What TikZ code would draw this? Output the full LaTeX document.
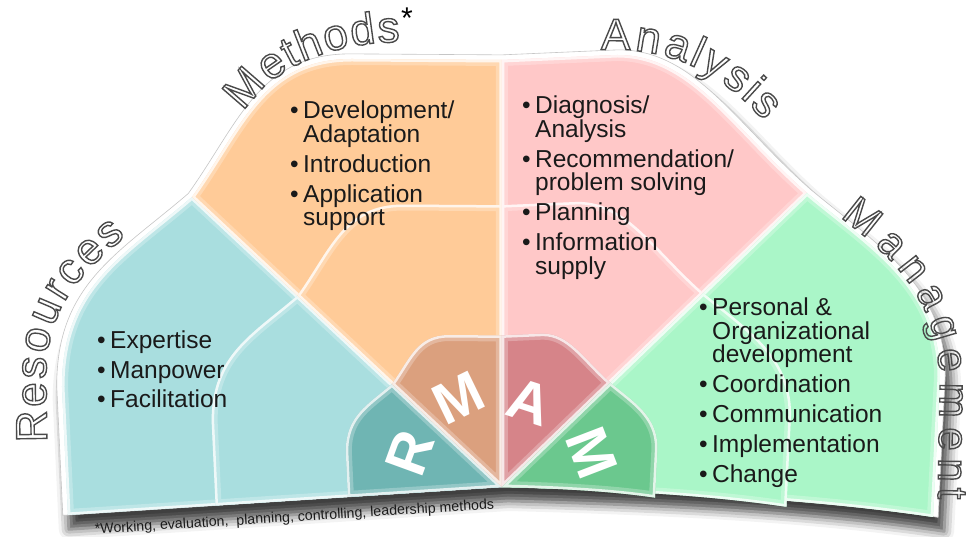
\documentclass[tikz,border=0pt]{standalone}
\usepackage{fontspec}
\setmainfont{Liberation Sans}
\usetikzlibrary{decorations.text,shadows.blur}

\definecolor{resfill}{HTML}{A9DEDF}
\definecolor{metfill}{HTML}{FFCB98}
\definecolor{anafill}{HTML}{FFC8C8}
\definecolor{manfill}{HTML}{AAF6C8}
\definecolor{resdark}{HTML}{6FB5B3}
\definecolor{metdark}{HTML}{DBA07E}
\definecolor{anadark}{HTML}{D68489}
\definecolor{mandark}{HTML}{6BC88E}
\definecolor{bodytext}{HTML}{1A1A1A}
\definecolor{rimgray}{HTML}{4A4A4A}

% the four sectors, all meeting in (0,0)
\def\respath{(0,0) -- (-434,-28) -- (-440,100) .. controls (-440,200) and (-380,230) .. (-310,290) -- cycle}
\def\metpath{(0,0) -- (-310,290) .. controls (-260,360) and (-240,428) .. (-150,428) -- (0,427) -- cycle}
\def\anapath{(0,0) -- (0,427) -- (115,432) .. controls (190,432) and (230,360) .. (305,294) -- cycle}
\def\manpath{(0,0) -- (305,294) .. controls (370,240) and (438,200) .. (438,110) -- (431,-30) .. controls (330,-15) and (200,-5) .. cycle}
\def\rimpath{(-434,-28) -- (-440,100) .. controls (-440,200) and (-380,230) .. (-310,290) .. controls (-260,360) and (-240,428) .. (-150,428) -- (0,427) -- (115,432) .. controls (190,432) and (230,360) .. (305,294) .. controls (370,240) and (438,200) .. (438,110) -- (431,-30) .. controls (330,-15) and (200,-5) .. (0,0) -- cycle}

% filled facet with a light bevel along its rim
\newcommand\facet[2]{%
  \fill[#2] #1;
  \begin{scope}
    \clip #1;
    \draw[white, line width=12pt, opacity=.25, line join=round] #1;
    \draw[white, line width=5pt, opacity=.75, line join=round] #1;
  \end{scope}}

% outlined letters (stroke only)
\newcommand\hollow[1]{\textcolor{rimgray}{\special{pdf:literal direct 1 Tr 1.4 w}#1}}
\newcommand\bitem{\makebox[13pt][l]{\textbullet}}
\newcommand\cont{\hspace*{13pt}}

\begin{document}
\begin{tikzpicture}[x=1pt, y=1pt,
    items/.style={anchor=north west, align=left, inner sep=0pt, text=bodytext,
                  font=\fontsize{24.5}{23.5}\selectfont},
    initial/.style={text=white, inner sep=0pt, font=\fontsize{58}{58}\selectfont\bfseries},
    rimlabel/.style={decorate, decoration={text effects along path, text={#1},
                  text effects/.cd, text along path, fit text to path, character command=\hollow}},
  ]
  \useasboundingbox (-502,-50) rectangle (470,487);

  % white rim and drop shadow
  \filldraw[fill=white, draw=gray!45, line width=.6pt, scale=1.012,
    blur shadow={shadow xshift=6pt, shadow yshift=-14pt, shadow opacity=75, shadow blur radius=10pt}]
    \rimpath;

  % outer, middle and inner rings
  \facet{\respath}{resfill}
  \facet{\metpath}{metfill}
  \facet{\anapath}{anafill}
  \facet{\manpath}{manfill}
  \begin{scope}[scale=.66]
    \facet{\respath}{resfill}
    \facet{\metpath}{metfill}
    \facet{\anapath}{anafill}
    \facet{\manpath}{manfill}
  \end{scope}
  \begin{scope}[scale=.355]
    \facet{\respath}{resdark}
    \facet{\metpath}{metdark}
    \facet{\anapath}{anadark}
    \facet{\manpath}{mandark}
  \end{scope}

  % headings round the rim
  \begin{scope}[font=\fontsize{44}{44}\selectfont]
    \path[rimlabel=Resources] (-455,45) -- (-456,110) .. controls (-456,180) and (-420,215) .. (-376,251);
    \path[rimlabel=Methods] (-258,375) .. controls (-232,418) and (-172,445) .. (-102,445);
    \path[rimlabel=Analysis] (99,437) .. controls (172,441) and (224,410) .. (262,366);
  \end{scope}
  \path[rimlabel=Management, font=\fontsize{42}{42}\selectfont]
    (338,270) .. controls (396,226) and (437,185) .. (438,100) -- (436,-12);
  \node[anchor=north, inner sep=0pt, font=\fontsize{30}{30}\selectfont] (star) at (-95,479) {*};

  % bullet lists
  \node[items] (res) at (-405,156) {\bitem Expertise\\[6pt]\bitem Manpower\\[6pt]\bitem Facilitation};
  \node[items] (met) at (-212,386) {\bitem Development/\\\cont Adaptation\\[6.5pt]\bitem Introduction\\[6.5pt]\bitem Application\\\cont support};
  \node[items] (ana) at (20,391) {\bitem Diagnosis/\\\cont Analysis\\[6.5pt]\bitem Recommendation/\\\cont problem solving\\[6.5pt]\bitem Planning\\[6.5pt]\bitem Information\\\cont supply};
  \node[items] (man) at (197,189) {\bitem Personal \&\\\cont Organizational\\\cont development\\[6.5pt]\bitem Coordination\\[6.5pt]\bitem Communication\\[6.5pt]\bitem Implementation\\[6.5pt]\bitem Change};

  % letters in the core
  \node[initial, rotate=70] (r) at (-92,34) {R};
  \node[initial, rotate=26] (m) at (-44,89) {M};
  \node[initial, rotate=-18] (a) at (28,85) {A};
  \node[initial, rotate=-69] (m2) at (90,34) {M};

  \node[anchor=base west, rotate=3.6, inner sep=0pt, text=bodytext,
    font=\fontsize{14.2}{16}\selectfont] (note) at (-407,-47)
    {*Working, evaluation,\ \ planning, controlling, leadership methods};
\end{tikzpicture}
\end{document}
